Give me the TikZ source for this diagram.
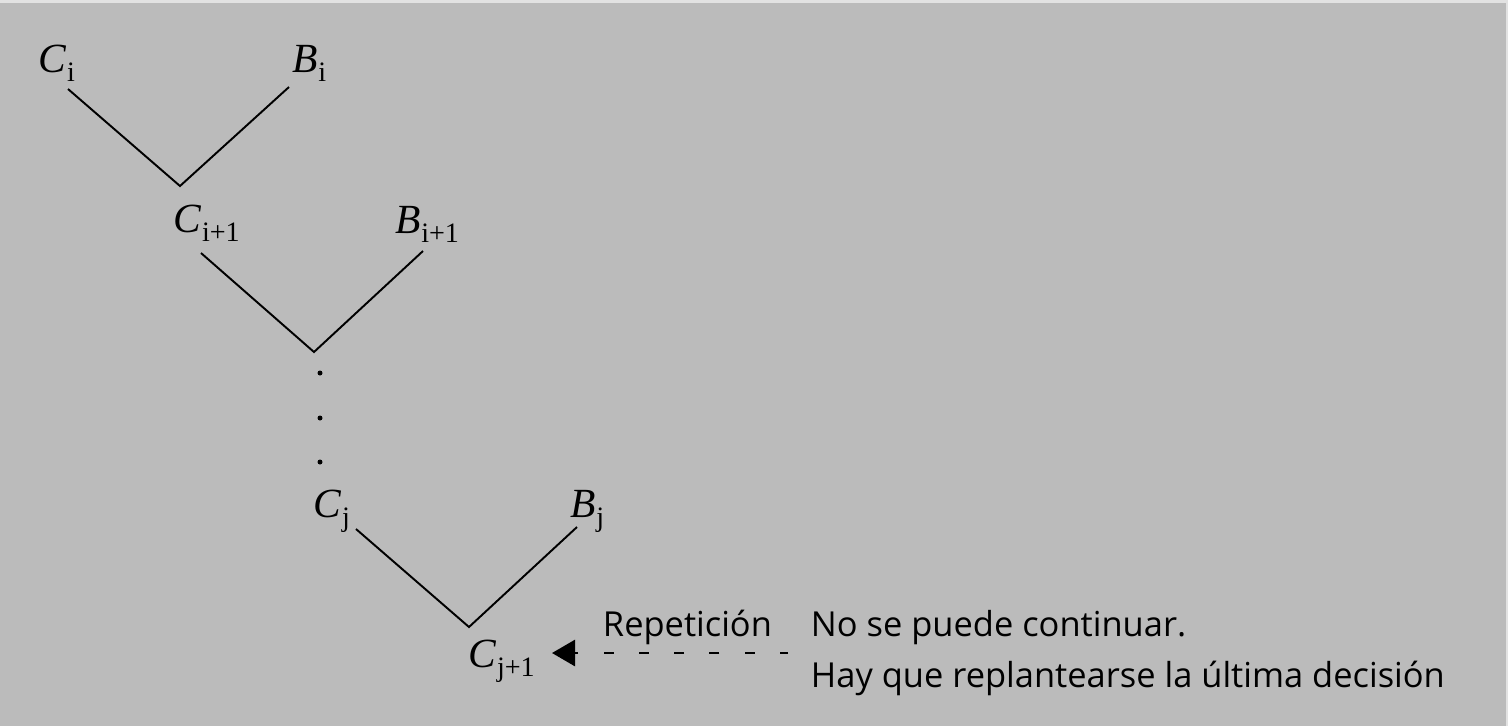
\documentclass[tikz,border=0pt]{standalone}
\usepackage{fontspec}
\setmainfont{Liberation Serif}
\newfontfamily\notefont{Open Sans}
\usetikzlibrary{arrows.meta,positioning}

\definecolor{panel}{RGB}{187,187,187}
\definecolor{rim}{RGB}{226,226,226}

\newcommand{\lbl}[2]{\textit{#1}\raisebox{-2.6pt}{\fontsize{8}{8}\selectfont #2}}

\begin{document}
\begin{tikzpicture}[x=0.1mm,y=-0.1mm,line width=0.55pt,
		label/.style={inner sep=0pt,anchor=base west,font=\fontsize{11.8}{13}\selectfont},
		note/.style={inner sep=0pt,anchor=base west,font=\notefont\fontsize{9.8}{12}\selectfont}]
		
		% --- Background ---
		\fill[rim] (0,0) rectangle (1508,726);
		\fill[panel] (0,3) rectangle (1506,726);
		\useasboundingbox (0,0) rectangle (1508,726);
		
		% --- Labels ---
		\node[label] (ci)  at (38,72)   {\lbl{C}{i}};
		\node[label] (bi)  at (292,72)  {\lbl{B}{i}};
		\node[label] (ci1) at (173,232) {\lbl{C}{i+1}};
		\node[label] (bi1) at (395,233) {\lbl{B}{i+1}};
		\node[label] (cj)  at (313,517) {\lbl{C}{j}};
		\node[label] (bj)  at (570,517) {\lbl{B}{j}};
		\node[label] (cj1) at (468,667) {\lbl{C}{j+1}};
		
		\node[note] (rep)  at (602,636) {Repetición};
		\node[note] (msg1) at (810,636) {No se puede continuar.};
		\node[note] (msg2) [below=5.1mm of msg1.base west, anchor=base west] {Hay que replantearse la última decisión};
		
		% --- Branch ends ---
		\coordinate (ci-s)  at (68,89);
		\coordinate (bi-s)  at (289,87);
		\coordinate (v1)    at (180,186);
		\coordinate (ci1-s) at (201,253);
		\coordinate (bi1-s) at (423,251);
		\coordinate (v2)    at (314,352);
		\coordinate (cj-s)  at (356,529);
		\coordinate (bj-s)  at (577,527);
		\coordinate (v3)    at (469,627);
		\coordinate (cj1-in) at (552,653);
		\coordinate (rep-s) at (788,653);
		
		% --- Branches ---
		\draw (ci-s) -- (v1) -- (bi-s);
		\draw (ci1-s) -- (v2) -- (bi1-s);
		\draw (cj-s) -- (v3) -- (bj-s);
		
		\foreach \y in {373,418,462}
		\fill (320,\y) circle (2.5);
		
		% --- Back step ---
		\draw[line width=0.8pt,dash pattern=on 1mm off 2.53mm,dash phase=0.2mm,
		-{Triangle[length=2.3mm,width=2.6mm]}] (rep-s) -- (cj1-in);
	\end{tikzpicture}
\end{document}
